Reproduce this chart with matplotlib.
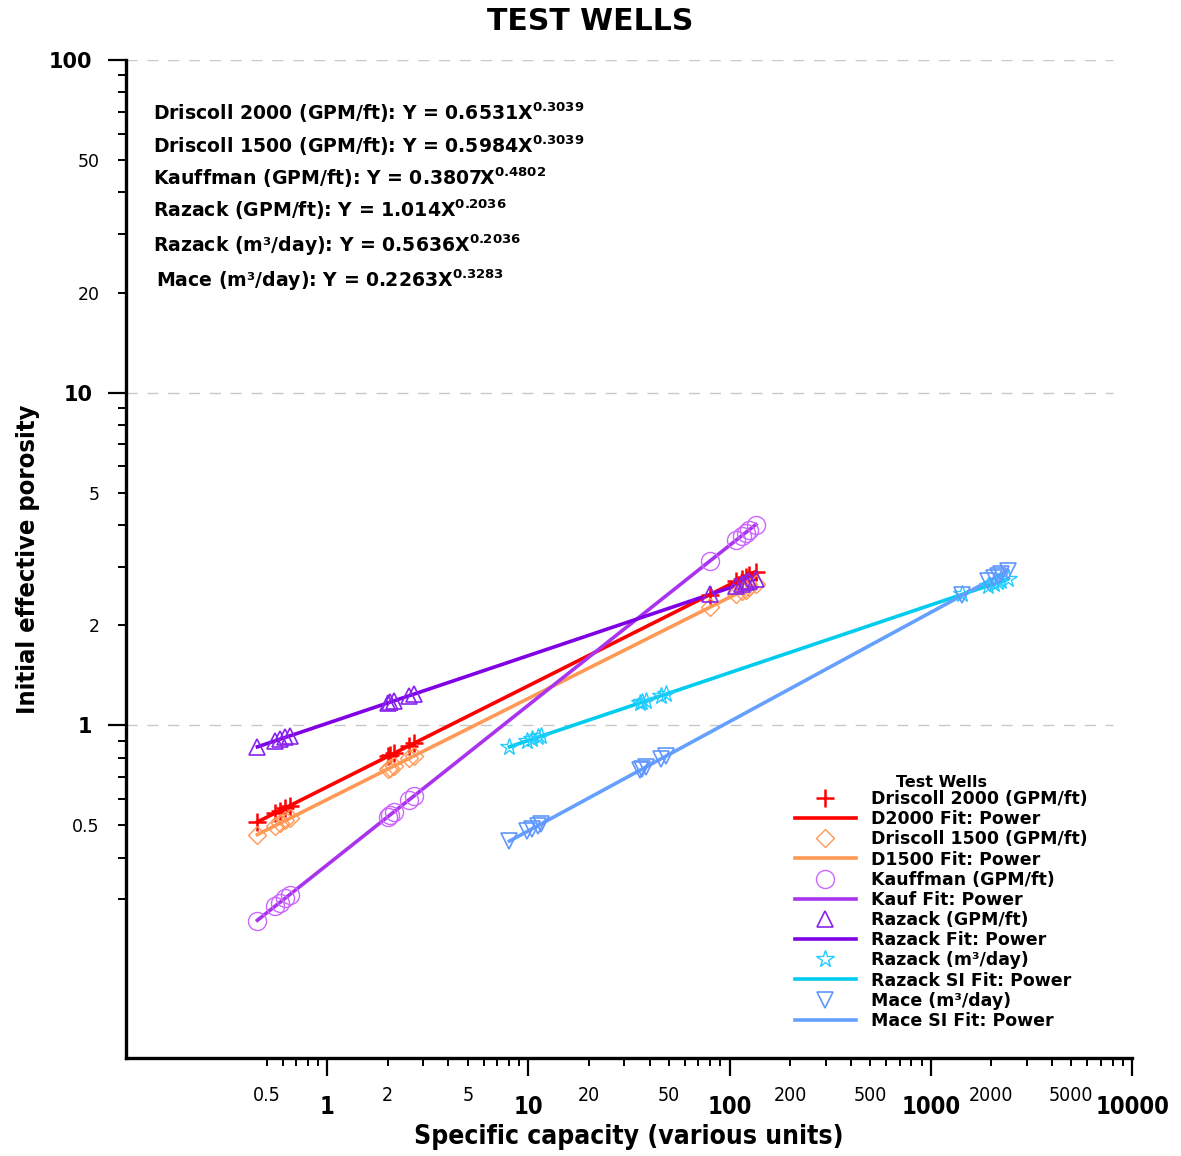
import matplotlib
matplotlib.use('Agg')
import matplotlib.pyplot as plt
from matplotlib import font_manager as fm
import numpy as np

# ---------------- data ----------------
x_gpm = [0.45, 0.55, 0.58, 0.62, 0.65, 2.0, 2.05, 2.15, 2.55, 2.7, 80, 108, 115, 120, 125, 135]
y_driscoll2000 = [0.512, 0.545, 0.553, 0.565, 0.573, 0.806, 0.812, 0.824, 0.868, 0.883,
                  2.47, 2.71, 2.76, 2.80, 2.83, 2.90]
y_driscoll1500 = [0.469, 0.499, 0.507, 0.518, 0.525, 0.739, 0.744, 0.755, 0.795, 0.809,
                  2.27, 2.48, 2.53, 2.56, 2.60, 2.66]
y_kauffman = [0.259, 0.286, 0.293, 0.303, 0.310, 0.531, 0.537, 0.550, 0.597, 0.613,
              3.12, 3.61, 3.72, 3.79, 3.87, 4.01]
y_razack = [0.862, 0.898, 0.908, 0.920, 0.929, 1.168, 1.174, 1.185, 1.227, 1.241,
            2.48, 2.63, 2.66, 2.69, 2.71, 2.75]
x_m3day = [8.05, 9.85, 10.4, 11.1, 11.6, 35.8, 36.7, 38.5, 45.6, 48.3,
           1432, 1933, 2059, 2148, 2238, 2417]
y_razack_si = [0.862, 0.898, 0.908, 0.920, 0.929, 1.168, 1.174, 1.185, 1.227, 1.241,
               2.48, 2.63, 2.66, 2.69, 2.71, 2.75]
y_mace = [0.449, 0.480, 0.488, 0.499, 0.506, 0.733, 0.739, 0.750, 0.793, 0.808,
          2.46, 2.71, 2.77, 2.81, 2.85, 2.92]

# power-fit coefficients (a, b) as printed on the chart: Y = a * X^b
fit_d2000 = (0.6531, 0.3039)
fit_d1500 = (0.5984, 0.3039)
fit_kauf = (0.3807, 0.4802)
fit_razack = (1.014, 0.2036)
fit_razack_si = (0.5636, 0.2036)
fit_mace = (0.2263, 0.3283)

equations = [
    ("Driscoll 2000 (GPM/ft): Y = 0.6531X", "0.3039"),
    ("Driscoll 1500 (GPM/ft): Y = 0.5984X", "0.3039"),
    ("Kauffman (GPM/ft): Y = 0.3807X", "0.4802"),
    ("Razack (GPM/ft): Y = 1.014X", "0.2036"),
    ("Razack (m\u00b3/day): Y = 0.5636X", "0.2036"),
    ("Mace (m\u00b3/day): Y = 0.2263X", "0.3283"),
]

x_major = [1, 10, 100, 1000, 10000]
x_major_labels = ["1", "10", "100", "1000", "10000"]
x_minor = [0.5, 0.6, 0.7, 0.8, 0.9] + [d * m for m in (1, 10, 100, 1000) for d in range(2, 10)]
x_minor_labeled = {0.5: "0.5", 2: "2", 5: "5", 20: "20", 50: "50", 200: "200",
                   500: "500", 2000: "2000", 5000: "5000"}
y_major = [1, 10, 100]
y_major_labels = ["1", "10", "100"]
y_minor = [0.3, 0.4, 0.5, 0.6, 0.7, 0.8, 0.9] + [d * m for m in (1, 10) for d in range(2, 10)]
y_minor_labeled = {0.5: "0.5", 2: "2", 5: "5", 20: "20", 50: "50"}

# ---------------- fonts ----------------
names = {f.name for f in fm.fontManager.ttflist}
if 'Liberation Sans Narrow' in names:
    NARROW, NSTRETCH = 'Liberation Sans Narrow', 'normal'
else:
    NARROW, NSTRETCH = 'DejaVu Sans', 'condensed'
WIDE = 'DejaVu Sans'

plt.rcParams['mathtext.fontset'] = 'dejavusans'

# ---------------- figure ----------------
W, H = 1181, 1156
fig = plt.figure(figsize=(W / 100, H / 100), dpi=100)
L, R, T, B = 126, 1132, 60, 1058
ax = fig.add_axes([L / W, 1 - B / H, (R - L) / W, (B - T) / H])
ax.set_xscale('log')
ax.set_yscale('log')
ax.set_xlim(0.1, 10000)
ax.set_ylim(0.1, 100)

for yv in y_major:
    ax.plot([0.1, 8000], [yv, yv], color='#c8c8c8', lw=1.0, ls=(0, (8, 7)), zorder=0)

def fitline(xs, coef):
    xx = np.array([min(xs), max(xs)])
    return xx, coef[0] * xx ** coef[1]

c_red = '#ff0000'
c_org = '#ff9955'
c_kauf_m = '#cc66ff'
c_kauf_l = '#aa33ee'
c_raz_m = '#8a22ee'
c_raz_l = '#8000e6'
c_cyan_m = '#22ccff'
c_cyan_l = '#00ccee'
c_mace_m = '#5f97ff'
c_mace_l = '#66a0ff'

ax.plot(x_gpm, y_driscoll2000, ls='none', marker='+', ms=13, mew=1.8, color=c_red,
        label='Driscoll 2000 (GPM/ft)', zorder=5)
xx, yy = fitline(x_gpm, fit_d2000)
ax.plot(xx, yy, color=c_red, lw=2.6, label='D2000 Fit: Power', zorder=4)

ax.plot(x_gpm, y_driscoll1500, ls='none', marker='D', ms=9, mew=1.0, mfc='none', mec=c_org,
        label='Driscoll 1500 (GPM/ft)', zorder=5)
xx, yy = fitline(x_gpm, fit_d1500)
ax.plot(xx, yy, color=c_org, lw=2.6, label='D1500 Fit: Power', zorder=4)

ax.plot(x_gpm, y_kauffman, ls='none', marker='o', ms=13, mew=1.0, mfc='none', mec=c_kauf_m,
        label='Kauffman (GPM/ft)', zorder=5)
xx, yy = fitline(x_gpm, fit_kauf)
ax.plot(xx, yy, color=c_kauf_l, lw=2.6, label='Kauf Fit: Power', zorder=4)

ax.plot(x_gpm, y_razack, ls='none', marker='^', ms=11, mew=1.2, mfc='none', mec=c_raz_m,
        label='Razack (GPM/ft)', zorder=5)
xx, yy = fitline(x_gpm, fit_razack)
ax.plot(xx, yy, color=c_raz_l, lw=2.6, label='Razack Fit: Power', zorder=4)

ax.plot(x_m3day, y_razack_si, ls='none', marker='*', ms=13, mew=1.0, mfc='none', mec=c_cyan_m,
        label='Razack (m\u00b3/day)', zorder=5)
xx, yy = fitline(x_m3day, fit_razack_si)
ax.plot(xx, yy, color=c_cyan_l, lw=2.6, label='Razack SI Fit: Power', zorder=4)

ax.plot(x_m3day, y_mace, ls='none', marker='v', ms=11, mew=1.2, mfc='none', mec=c_mace_m,
        label='Mace (m\u00b3/day)', zorder=5)
xx, yy = fitline(x_m3day, fit_mace)
ax.plot(xx, yy, color=c_mace_l, lw=2.6, label='Mace SI Fit: Power', zorder=4)

# ---------------- axes styling ----------------
for s in ('top', 'right'):
    ax.spines[s].set_visible(False)
for s in ('left', 'bottom'):
    ax.spines[s].set_linewidth(2.4)
    ax.spines[s].set_color('black')

ax.set_xticks(x_major, labels=x_major_labels)
ax.set_xticks(x_minor, labels=[x_minor_labeled.get(v, "") for v in x_minor], minor=True)
ax.set_yticks(y_major, labels=y_major_labels)
ax.set_yticks(y_minor, labels=[y_minor_labeled.get(v, "") for v in y_minor], minor=True)

ax.tick_params(axis='x', which='major', direction='out', length=13, width=1.6, pad=14)
ax.tick_params(axis='x', which='minor', direction='out', length=6, width=1.4, pad=14.5)
ax.tick_params(axis='y', which='major', direction='out', length=13, width=1.6, pad=11)
ax.tick_params(axis='y', which='minor', direction='out', length=6, width=1.4, pad=13)

for lbl in ax.get_xticklabels():
    lbl.set_fontfamily(NARROW); lbl.set_fontstretch(NSTRETCH)
    lbl.set_fontweight('bold'); lbl.set_fontsize(17)
for lbl in ax.get_xticklabels(minor=True):
    lbl.set_fontfamily(NARROW); lbl.set_fontstretch(NSTRETCH)
    lbl.set_fontweight('normal'); lbl.set_fontsize(14)
for lbl in ax.get_yticklabels():
    lbl.set_fontfamily(WIDE); lbl.set_fontweight('bold'); lbl.set_fontsize(15)
for lbl in ax.get_yticklabels(minor=True):
    lbl.set_fontfamily(WIDE); lbl.set_fontweight('normal'); lbl.set_fontsize(12.5)

ax.set_xlabel('Specific capacity (various units)', fontfamily=NARROW, fontstretch=NSTRETCH,
              fontweight='bold', fontsize=19)
ax.xaxis.set_label_coords(0.5, -0.066)
ax.xaxis.label.set_va('top')
ax.set_ylabel('Initial effective porosity', fontfamily=NARROW, fontstretch=NSTRETCH,
              fontweight='bold', fontsize=18.3)
ax.yaxis.set_label_coords(-0.097, 0.5)
ax.yaxis.label.set_va('center')

fig.text(0.5, 1 - 22 / H, 'TEST WELLS', ha='center', va='center', fontfamily=WIDE,
         fontweight='bold', fontsize=21.5)

# equations
eq_base = [120, 153, 185, 217, 252, 287]
eq_x = [153, 153, 153, 153, 153, 156]
for (txt, ex), yb, xl in zip(equations, eq_base, eq_x):
    fig.text(xl / W, 1 - yb / H, txt + r'$^{\mathbf{' + ex + '}}$', ha='left', va='baseline',
             fontfamily=WIDE, fontweight='bold', fontsize=13.6)

# legend
leg = ax.legend(loc='upper left', bbox_to_anchor=(795 / W, 1 - 775 / H),
                bbox_transform=fig.transFigure, frameon=False, title='Test Wells',
                prop={'family': WIDE, 'weight': 'bold', 'size': 12.5},
                handlelength=3.5, handletextpad=0.9, labelspacing=0.125, borderpad=0,
                borderaxespad=0, numpoints=1)
leg.get_title().set_fontweight('bold')
leg.get_title().set_fontfamily(WIDE)
leg.get_title().set_fontsize(11.5)
leg._legend_box.sep = 0

fig.savefig('out.png', dpi=100)
